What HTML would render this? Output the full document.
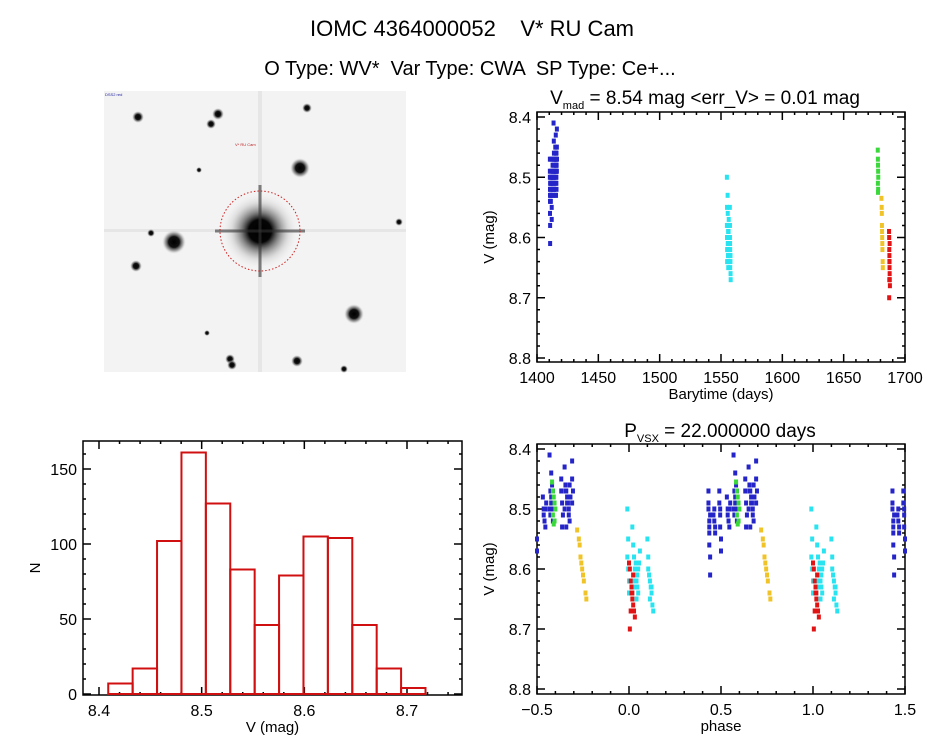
<!DOCTYPE html>
<html><head><meta charset="utf-8">
<style>
html,body{margin:0;padding:0;background:#fff;}
svg{display:block;font-family:"Liberation Sans",sans-serif;}
</style></head>
<body>
<svg id="fig" width="944" height="747" viewBox="0 0 944 747" xmlns="http://www.w3.org/2000/svg">
<defs>
<radialGradient id="star" cx="50%" cy="50%" r="50%">
<stop offset="0%" stop-color="#000"/><stop offset="45%" stop-color="#111"/><stop offset="75%" stop-color="#777" stop-opacity="0.6"/><stop offset="100%" stop-color="#ddd" stop-opacity="0"/>
</radialGradient>
<radialGradient id="halo" cx="50%" cy="50%" r="50%">
<stop offset="0%" stop-color="#000"/><stop offset="30%" stop-color="#050505"/><stop offset="50%" stop-color="#555" stop-opacity="0.7"/><stop offset="75%" stop-color="#bbb" stop-opacity="0.4"/><stop offset="100%" stop-color="#eee" stop-opacity="0"/>
</radialGradient>
</defs>
<text x="472" y="36" font-size="22" text-anchor="middle" xml:space="preserve">IOMC 4364000052    V* RU Cam</text>
<text x="470" y="75" font-size="20" text-anchor="middle" xml:space="preserve">O Type: WV*  Var Type: CWA  SP Type: Ce+...</text>
<g>
<rect x="104" y="91" width="302" height="281" fill="#f3f3f3"/>
<rect x="258" y="91" width="4" height="281" fill="#ddd" opacity="0.6"/>
<rect x="104" y="229" width="302" height="3" fill="#ddd" opacity="0.6"/>
<circle cx="260" cy="231" r="38" fill="url(#halo)"/>
<rect x="258.5" y="185" width="3" height="92" fill="#333" opacity="0.6"/>
<rect x="215" y="229.5" width="90" height="3" fill="#333" opacity="0.6"/>
<circle cx="174" cy="242" r="12" fill="url(#star)"/>
<circle cx="300" cy="168" r="10" fill="url(#star)"/>
<circle cx="354" cy="314" r="10" fill="url(#star)"/>
<circle cx="218" cy="114" r="6" fill="url(#star)"/>
<circle cx="211" cy="124" r="5" fill="url(#star)"/>
<circle cx="138" cy="117" r="6" fill="url(#star)"/>
<circle cx="307" cy="108" r="5" fill="url(#star)"/>
<circle cx="136" cy="266" r="6" fill="url(#star)"/>
<circle cx="297" cy="361" r="6" fill="url(#star)"/>
<circle cx="230" cy="359" r="5" fill="url(#star)"/>
<circle cx="232" cy="365" r="5" fill="url(#star)"/>
<circle cx="344" cy="369" r="4" fill="url(#star)"/>
<circle cx="399" cy="222" r="4" fill="url(#star)"/>
<circle cx="151" cy="233" r="4" fill="url(#star)"/>
<circle cx="199" cy="170" r="3" fill="url(#star)"/>
<circle cx="207" cy="333" r="3" fill="url(#star)"/>
<circle cx="260" cy="231" r="40" fill="none" stroke="#d02020" stroke-width="1" stroke-dasharray="1.5,2"/>
<text x="105" y="96" font-size="4" fill="#2020a0">DSS2 red</text>
<text x="235" y="146" font-size="4" fill="#c02020">V* RU Cam</text>
</g>
<g id="lc"></g>
<g id="ph"></g>
<g id="hist"></g>
</svg>
<script>
// ---- data ----
const blueT=[1410.5,1410.5,1410.6,1410.6,1410.6,1410.7,1410.7,1410.5,1410.6,1410.7,
1411.2,1411.2,1411.3,1411.1,1411.3,
1411.8,1411.9,1411.9,1412.0,1411.8,1412.0,1411.9,
1412.7,1412.8,1412.9,1413.0,1413.1,1412.8,1413.0,
1413.5,1413.6,1413.7,1413.8,1413.9,1414.0,1413.6,1413.8,1413.7,1413.9,1413.5,1414.0,1413.7,
1414.9,1415.0,1415.1,1415.0,1414.9,
1415.3,1415.4,1415.5,1415.6,1415.7,1415.8,1415.9,1416.0,1415.4,1415.6,1415.8,1415.5,1415.7,1415.9,1415.3,
1416.2,1416.2,1416.3,1416.2];
const blueV=[8.47,8.50,8.52,8.54,8.56,8.58,8.61,8.49,8.53,8.51,
8.50,8.52,8.54,8.51,8.53,
8.47,8.50,8.53,8.55,8.49,8.57,8.51,
8.48,8.50,8.52,8.53,8.49,8.51,8.50,
8.41,8.47,8.48,8.50,8.52,8.49,8.51,8.46,8.49,8.47,8.50,8.52,8.44,
8.45,8.49,8.51,8.53,8.47,
8.43,8.46,8.47,8.48,8.49,8.50,8.52,8.48,8.47,8.49,8.51,8.53,8.48,8.46,8.50,
8.42,8.45,8.47,8.49];
const cyanT=[1554.8,1554.9,1554.9,1555.0,1554.8,1555.0,1555.4,1555.5,1555.6,1555.7,1555.8,1555.9,1556.0,1556.1,1556.2,1556.3,1555.5,1555.7,1555.9,1556.1,1555.6,1555.8,1556.0,1557.2,1557.3,1557.4,1557.5,1557.6,1557.7,1557.8,1557.9,1557.3,1557.5,1557.7];
const cyanV=[8.50,8.55,8.60,8.64,8.58,8.62,8.53,8.56,8.58,8.60,8.61,8.62,8.63,8.64,8.59,8.57,8.61,8.63,8.65,8.60,8.62,8.59,8.61,8.55,8.58,8.61,8.62,8.63,8.64,8.66,8.67,8.60,8.65,8.63];
const greenT=[1677.8,1677.9,1678.0,1678.1,1678.2,1677.9,1678.1,1678.0];
const greenV=[8.455,8.47,8.48,8.49,8.50,8.51,8.52,8.525];
const yellowT=[1680.8,1681.0,1681.1,1681.2,1681.3,1681.4,1681.5,1681.6,1681.8,1681.9];
const yellowV=[8.535,8.55,8.56,8.58,8.59,8.60,8.61,8.62,8.64,8.65];
const redT=[1687.0,1687.1,1687.2,1687.3,1687.4,1687.5,1687.6,1687.7,1687.1,1687.3,1687.5,1687.2,1687.4];
const redV=[8.59,8.60,8.62,8.64,8.65,8.66,8.67,8.68,8.70,8.63,8.61,8.67,8.64];
const period=22.0, epoch=1687.0;
const lcXTicks=["1400","1450","1500","1550","1600","1650","1700"];
const magTicks=["8.4","8.5","8.6","8.7","8.8"];
const phTicks=["−0.5","0.0","0.5","1.0","1.5"];
const histCounts=[7,17,102,161,127,83,46,79,105,104,46,17,4];
const histStart=8.409, histWidth=0.02377;
const histXTicks=["8.4","8.5","8.6","8.7"];
const histYTicks=["0","50","100","150"];

const NS="http://www.w3.org/2000/svg";
function mk(tag,attrs,parent){const e=document.createElementNS(NS,tag);for(const k in attrs)e.setAttribute(k,attrs[k]);parent.appendChild(e);return e;}
function lin(d0,d1,r0,r1){return v=>r0+(v-d0)*(r1-r0)/(d1-d0);}

function frame(g,x0,y0,x1,y1,xs,ys,xMaj,xMin,yMaj,yMin,xl,yl,xLab,yLab,xTickVals,yTickVals){
  const r=mk('rect',{x:x0,y:y0,width:x1-x0,height:y1-y0,fill:'none',stroke:'#000','stroke-width':1.5},g);
  
  
  let p='';
  xMin.forEach(v=>{const x=xs(v);p+=`M${x},${y1}v-3M${x},${y0}v3`;});
  xMaj.forEach(v=>{const x=xs(v);p+=`M${x},${y1}v-8M${x},${y0}v8`;});
  yMin.forEach(v=>{const y=ys(v);p+=`M${x0},${y}h3M${x1},${y}h-3`;});
  yMaj.forEach(v=>{const y=ys(v);p+=`M${x0},${y}h8M${x1},${y}h-8`;});
  const t=mk('path',{d:p,stroke:'#000','stroke-width':1.5,fill:'none'},g);
  
  
  xTickVals.forEach((v,i)=>{const e=mk('text',{x:xs(v),y:y1+21,'font-size':16,'text-anchor':'middle'},g);e.textContent=xl[i];
    
    });
  yTickVals.forEach((v,i)=>{const e=mk('text',{x:x0-6,y:ys(v)+6,'font-size':16,'text-anchor':'end'},g);e.textContent=yl[i];
    
    });
  const xt=mk('text',{x:(x0+x1)/2,y:y1+37,'font-size':15,'text-anchor':'middle'},g);xt.textContent=xLab;
  
  
  const yt=mk('text',{x:0,y:0,'font-size':15,'text-anchor':'middle',transform:`translate(${x0-43},${(y0+y1)/2}) rotate(-90)`},g);yt.textContent=yLab;
  
  
}
function range(a,b,s){const o=[];for(let v=a;v<=b+1e-9;v+=s)o.push(+v.toFixed(6));return o;}

const series=[[blueT,blueV,'#2424c8','blue'],[cyanT,cyanV,'#28e4f0','cyan'],[greenT,greenV,'#3ad83a','green'],[yellowT,yellowV,'#f0c428','yellow'],[redT,redV,'#e01414','red']];

// light curve
{const g=document.getElementById('lc');
 const xs=lin(1400,1700,537,905), ys=lin(8.4,8.8,117,358);
 const mv=[8.4,8.5,8.6,8.7,8.8];
 frame(g,537,112,905,362,xs,ys,range(1400,1700,50),range(1400,1700,10),mv,range(8.4,8.8,0.02),lcXTicks,magTicks,'Barytime (days)','V (mag)',range(1400,1700,50),mv);
 series.forEach(s=>{const[T,V,c,n]=s;const L=Math.min(T.length,V.length);
  for(let i=0;i<L;i++){const r=mk('rect',{x:xs(T[i])-2,y:ys(V[i])-2.5,width:4,height:5,fill:c},g);
   
   }});
 const t=mk('text',{x:705,y:104,'font-size':19,'text-anchor':'middle'},g);
 
 
 t.innerHTML='V<tspan font-size="11" dy="5">mad</tspan><tspan dy="-5"> = 8.54 mag &lt;err_V&gt; = 0.01 mag</tspan>';
}
// phase
{const g=document.getElementById('ph');
 const xs=lin(-0.5,1.5,537,905), ys=lin(8.4,8.8,449,689);
 const mv=[8.4,8.5,8.6,8.7,8.8];
 frame(g,537,444,905,694,xs,ys,range(-0.5,1.5,0.5),range(-0.5,1.5,0.1),mv,range(8.4,8.8,0.02),phTicks,magTicks,'phase','V (mag)',range(-0.5,1.5,0.5),mv);
 series.forEach(s=>{const[T,V,c,n]=s;const L=Math.min(T.length,V.length);
  for(let i=0;i<L;i++){let ph=((T[i]-epoch)/period)%1;if(ph<0)ph+=1;
   [ph-1,ph,ph+1].forEach(p=>{if(p<-0.5||p>1.5)return;
    const r=mk('rect',{x:xs(p)-2,y:ys(V[i])-2.5,width:4,height:5,fill:c},g);
    
    });}});
 const t=mk('text',{x:720,y:437,'font-size':19,'text-anchor':'middle'},g);
 
 
 t.innerHTML='P<tspan font-size="11" dy="5">VSX</tspan><tspan dy="-5"> = 22.000000 days</tspan>';
}
// histogram
{const g=document.getElementById('hist');
 const xs=lin(8.4,8.7,99,407), ys=lin(0,150,694,469);
 frame(g,83,441,462,695,xs,ys,[8.4,8.5,8.6,8.7],range(8.4,8.74,0.02),[0,50,100,150],range(0,160,10),histXTicks,histYTicks,'V (mag)','N',[8.4,8.5,8.6,8.7],[0,50,100,150]);
 histCounts.forEach((c,i)=>{const a=histStart+i*histWidth;const x=xs(a),w=xs(a+histWidth)-x;
  const r=mk('rect',{x:x,y:ys(c),width:w,height:ys(0)-ys(c),fill:'none',stroke:'#d01010','stroke-width':2},g);
  
  });
}
</script>
</body></html>
